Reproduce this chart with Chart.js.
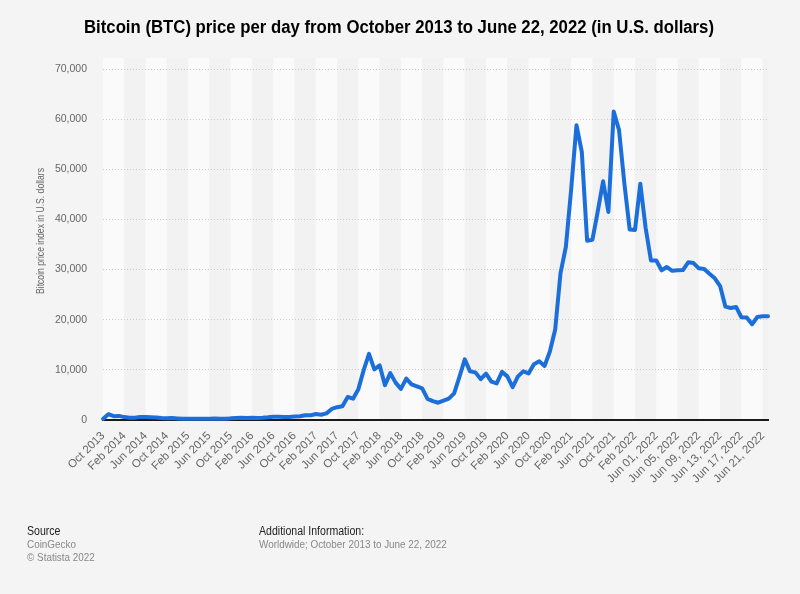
<!DOCTYPE html>
<html>
<head>
<meta charset="utf-8">
<script src="https://cdn.jsdelivr.net/npm/chart.js@4/dist/chart.umd.min.js"></script>
<style>
  html, body { margin: 0; padding: 0; background: #f4f4f4; }
  #wrap { width: 800px; height: 594px; }
</style>
</head>
<body>
<div id="wrap"><canvas id="btc-chart" width="800" height="594"></canvas></div>
<script>
  // Month-end prices, Oct 2013 - May 2022
  const months = [
    'Oct 2013', 'Nov 2013', 'Dec 2013',
    'Jan 2014', 'Feb 2014', 'Mar 2014', 'Apr 2014', 'May 2014', 'Jun 2014', 'Jul 2014', 'Aug 2014', 'Sep 2014', 'Oct 2014', 'Nov 2014', 'Dec 2014',
    'Jan 2015', 'Feb 2015', 'Mar 2015', 'Apr 2015', 'May 2015', 'Jun 2015', 'Jul 2015', 'Aug 2015', 'Sep 2015', 'Oct 2015', 'Nov 2015', 'Dec 2015',
    'Jan 2016', 'Feb 2016', 'Mar 2016', 'Apr 2016', 'May 2016', 'Jun 2016', 'Jul 2016', 'Aug 2016', 'Sep 2016', 'Oct 2016', 'Nov 2016', 'Dec 2016',
    'Jan 2017', 'Feb 2017', 'Mar 2017', 'Apr 2017', 'May 2017', 'Jun 2017', 'Jul 2017', 'Aug 2017', 'Sep 2017', 'Oct 2017', 'Nov 2017', 'Dec 2017',
    'Jan 2018', 'Feb 2018', 'Mar 2018', 'Apr 2018', 'May 2018', 'Jun 2018', 'Jul 2018', 'Aug 2018', 'Sep 2018', 'Oct 2018', 'Nov 2018', 'Dec 2018',
    'Jan 2019', 'Feb 2019', 'Mar 2019', 'Apr 2019', 'May 2019', 'Jun 2019', 'Jul 2019', 'Aug 2019', 'Sep 2019', 'Oct 2019', 'Nov 2019', 'Dec 2019',
    'Jan 2020', 'Feb 2020', 'Mar 2020', 'Apr 2020', 'May 2020', 'Jun 2020', 'Jul 2020', 'Aug 2020', 'Sep 2020', 'Oct 2020', 'Nov 2020', 'Dec 2020',
    'Jan 2021', 'Feb 2021', 'Mar 2021', 'Apr 2021', 'May 2021', 'Jun 2021', 'Jul 2021', 'Aug 2021', 'Sep 2021', 'Oct 2021', 'Nov 2021', 'Dec 2021',
    'Jan 2022', 'Feb 2022', 'Mar 2022', 'Apr 2022', 'May 2022'
  ];
  const monthlyPrices = [
    200, 1150, 750,
    820, 580, 470, 450, 620, 600, 570, 500, 380, 340, 375, 315,
    230, 255, 245, 225, 235, 258, 288, 230, 238, 325, 375, 425,
    378, 435, 415, 455, 535, 645, 655, 575, 605, 700, 735, 960,
    925, 1190, 1045, 1330, 2200, 2560, 2750, 4600, 4250, 6150, 9950, 13200,
    10100, 10900, 6950, 9350, 7450, 6200, 8250, 7100, 6700, 6320, 4200, 3750,
    3450, 3850, 4250, 5300, 8600, 12100, 9700, 9500, 8150, 9250, 7650, 7300,
    9600, 8700, 6550, 8700, 9700, 9300, 11100, 11700, 10770, 13650, 18050, 29300,
    34500, 46000, 58800, 53450, 35750, 35950, 41600, 47600, 41500, 61500, 57800, 47200,
    38000, 37900, 47100, 38300, 31800
  ];

  // Daily prices, June 2022
  const juneDays = [
    'Jun 01, 2022', 'Jun 02, 2022', 'Jun 03, 2022', 'Jun 04, 2022', 'Jun 05, 2022', 'Jun 06, 2022',
    'Jun 07, 2022', 'Jun 08, 2022', 'Jun 09, 2022', 'Jun 10, 2022', 'Jun 11, 2022', 'Jun 12, 2022',
    'Jun 13, 2022', 'Jun 14, 2022', 'Jun 15, 2022', 'Jun 16, 2022', 'Jun 17, 2022', 'Jun 18, 2022',
    'Jun 19, 2022', 'Jun 20, 2022', 'Jun 21, 2022', 'Jun 22, 2022'
  ];
  const junePrices = [
    31800, 29850, 30500, 29750, 29850, 29900,
    31450, 31300, 30250, 30100, 29150, 28250,
    26700, 22600, 22350, 22550, 20500, 20450,
    19100, 20550, 20700, 20700
  ];

  const yTicks = [0, 10000, 20000, 30000, 40000, 50000, 60000, 70000];

  const titleText = 'Bitcoin (BTC) price per day from October 2013 to June 22, 2022 (in U.S. dollars)';
  const yAxisTitle = 'Bitcoin price index in U.S. dollars';
  const sourceLines = ['CoinGecko', '\u00a9 Statista 2022'];
  const infoLines = ['Worldwide; October 2013 to June 22, 2022'];

  const labels = months.concat(juneDays);
  const prices = monthlyPrices.concat(junePrices);

  const FONT = "'Liberation Sans', Arial, sans-serif";

  // draws text squeezed horizontally by sx (the original uses a narrow face)
  function squeezedText(ctx, text, x, y, sx, rot) {
    ctx.save();
    ctx.translate(x, y);
    if (rot) ctx.rotate(rot);
    ctx.scale(sx, 1);
    ctx.fillText(text, 0, 0);
    ctx.restore();
  }

  const statistaDecor = {
    id: 'statistaDecor',
    beforeDraw(chart) {
      const ctx = chart.ctx;
      const area = chart.chartArea;
      const x = chart.scales.x;
      ctx.save();
      for (let k = 0; k * 4 < labels.length; k++) {
        const x0 = x.getPixelForValue(k * 4);
        const x1 = Math.min(x.getPixelForValue(k * 4 + 4), area.right);
        ctx.fillStyle = k % 2 ? '#f2f2f2' : '#fafafa';
        ctx.fillRect(x0, area.top - 11, x1 - x0, area.bottom - area.top + 11);
      }
      ctx.restore();
    },
    afterDraw(chart) {
      const ctx = chart.ctx;
      ctx.save();
      ctx.textBaseline = 'middle';

      // title
      ctx.font = 'bold 18px ' + FONT;
      ctx.fillStyle = '#000';
      ctx.textAlign = 'center';
      const tw = ctx.measureText(titleText).width;
      squeezedText(ctx, titleText, 399, 28, 630 / tw);

      // y axis title
      ctx.font = '11px ' + FONT;
      ctx.fillStyle = '#666';
      const yw = ctx.measureText(yAxisTitle).width;
      squeezedText(ctx, yAxisTitle, 41, 231, 126 / yw, -Math.PI / 2);

      // footer
      ctx.textAlign = 'left';
      ctx.font = '12px ' + FONT;
      ctx.fillStyle = '#222';
      squeezedText(ctx, 'Source', 27, 532, 0.88);
      squeezedText(ctx, 'Additional Information:', 259, 532, 0.88);
      ctx.font = '11.5px ' + FONT;
      ctx.fillStyle = '#888';
      sourceLines.forEach((t, i) => squeezedText(ctx, t, 27, 545 + i * 12.5, 0.86));
      infoLines.forEach((t, i) => squeezedText(ctx, t, 259, 545 + i * 12.5, 0.86));
      ctx.restore();
    }
  };

  new Chart(document.getElementById('btc-chart'), {
    type: 'line',
    data: {
      labels,
      datasets: [{
        label: 'Bitcoin price',
        data: prices,
        borderColor: '#1c6fdb',
        borderWidth: 4,
        pointRadius: 0,
        tension: 0,
        borderJoinStyle: 'round',
        borderCapStyle: 'round',
        clip: false
      }]
    },
    options: {
      responsive: false,
      animation: false,
      layout: { padding: { top: 69, right: 32, left: 0, bottom: 0 } },
      plugins: {
        legend: { display: false },
        title: { display: false },
        tooltip: { enabled: false }
      },
      scales: {
        x: {
          grid: { display: false, drawTicks: false },
          border: { display: true, color: '#1a1a1a', width: 2 },
          afterFit(scale) { scale.height = 174; },
          ticks: {
            autoSkip: false,
            maxRotation: 45,
            minRotation: 45,
            padding: 9,
            color: '#666',
            font: { family: FONT, size: 11.5 },
            callback: function(value, i) {
              return i % 4 === 0 ? this.getLabelForValue(value) : '';
            }
          }
        },
        y: {
          min: yTicks[0],
          max: yTicks[yTicks.length - 1],
          afterFit(scale) { scale.width = 103; },
          afterBuildTicks(scale) { scale.ticks = yTicks.map(v => ({ value: v })); },
          grid: {
            drawTicks: false,
            color: ctx => ctx.tick && ctx.tick.value === 0 ? 'rgba(0,0,0,0)' : '#cacaca',
            lineWidth: 1
          },
          border: { display: false, dash: [1, 2] },
          ticks: {
            padding: 16,
            color: '#666',
            font: { family: FONT, size: 10.5 },
            callback: v => v.toLocaleString('en-US')
          }
        }
      }
    },
    plugins: [statistaDecor]
  });
</script>
</body>
</html>
